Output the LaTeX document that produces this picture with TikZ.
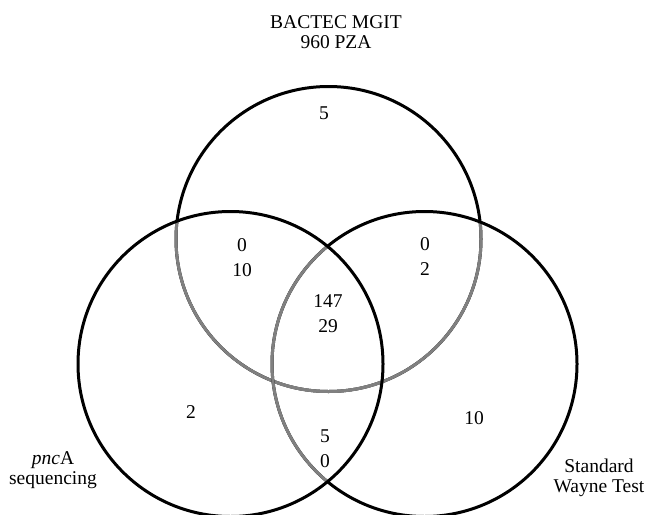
\documentclass[tikz,border=0pt]{standalone}
\usepackage{fontspec}
\setmainfont{Liberation Serif}
\begin{document}
\begin{tikzpicture}[x=1pt,y=-1pt,
  ring/.style={line width=3pt,draw=black},
  ringgray/.style={line width=3pt,draw=black!50},
  num/.style={font=\fontsize{19.5}{25}\selectfont,align=center,inner sep=0pt},
  lab/.style={font=\fontsize{19.5}{20.5}\selectfont,align=center,inner sep=0pt}]
\useasboundingbox (0,0) rectangle (647,514);
\def\rad{152.5}
\coordinate (T) at (328.5,239);
\coordinate (L) at (230.5,364);
\coordinate (R) at (424.5,364);
% top circle
\draw[ring] (T) circle (\rad);
\begin{scope}
  \clip (L) circle (\rad);
  \draw[ringgray] (T) circle (\rad);
\end{scope}
\begin{scope}
  \clip (R) circle (\rad);
  \draw[ringgray] (T) circle (\rad);
\end{scope}
% right circle
\draw[ring] (R) circle (\rad);
\begin{scope}
  \clip (L) circle (\rad);
  \draw[ringgray] (R) circle (\rad);
\end{scope}
% left circle
\draw[ring] (L) circle (\rad);
% labels
\node[lab] (tTitle) at (336,32) {BACTEC MGIT\\960 PZA};
\node[lab] (tLeft) at (53,470) {\textit{pnc}A\\sequencing};
\node[lab] (tRight) at (599,478) {Standard\\Wayne Test};
% numbers
\node[num] (nTop) at (324,113) {5};
\node[num] (nTL) at (242,258) {0\\10};
\node[num] (nTR) at (425,257) {0\\2};
\node[num] (nC) at (328,314) {147\\29};
\node[num] (nL) at (191,412) {2};
\node[num] (nR) at (474,418) {10};
\node[num] (nB) at (325,449) {5\\0};
\end{tikzpicture}
\end{document}
